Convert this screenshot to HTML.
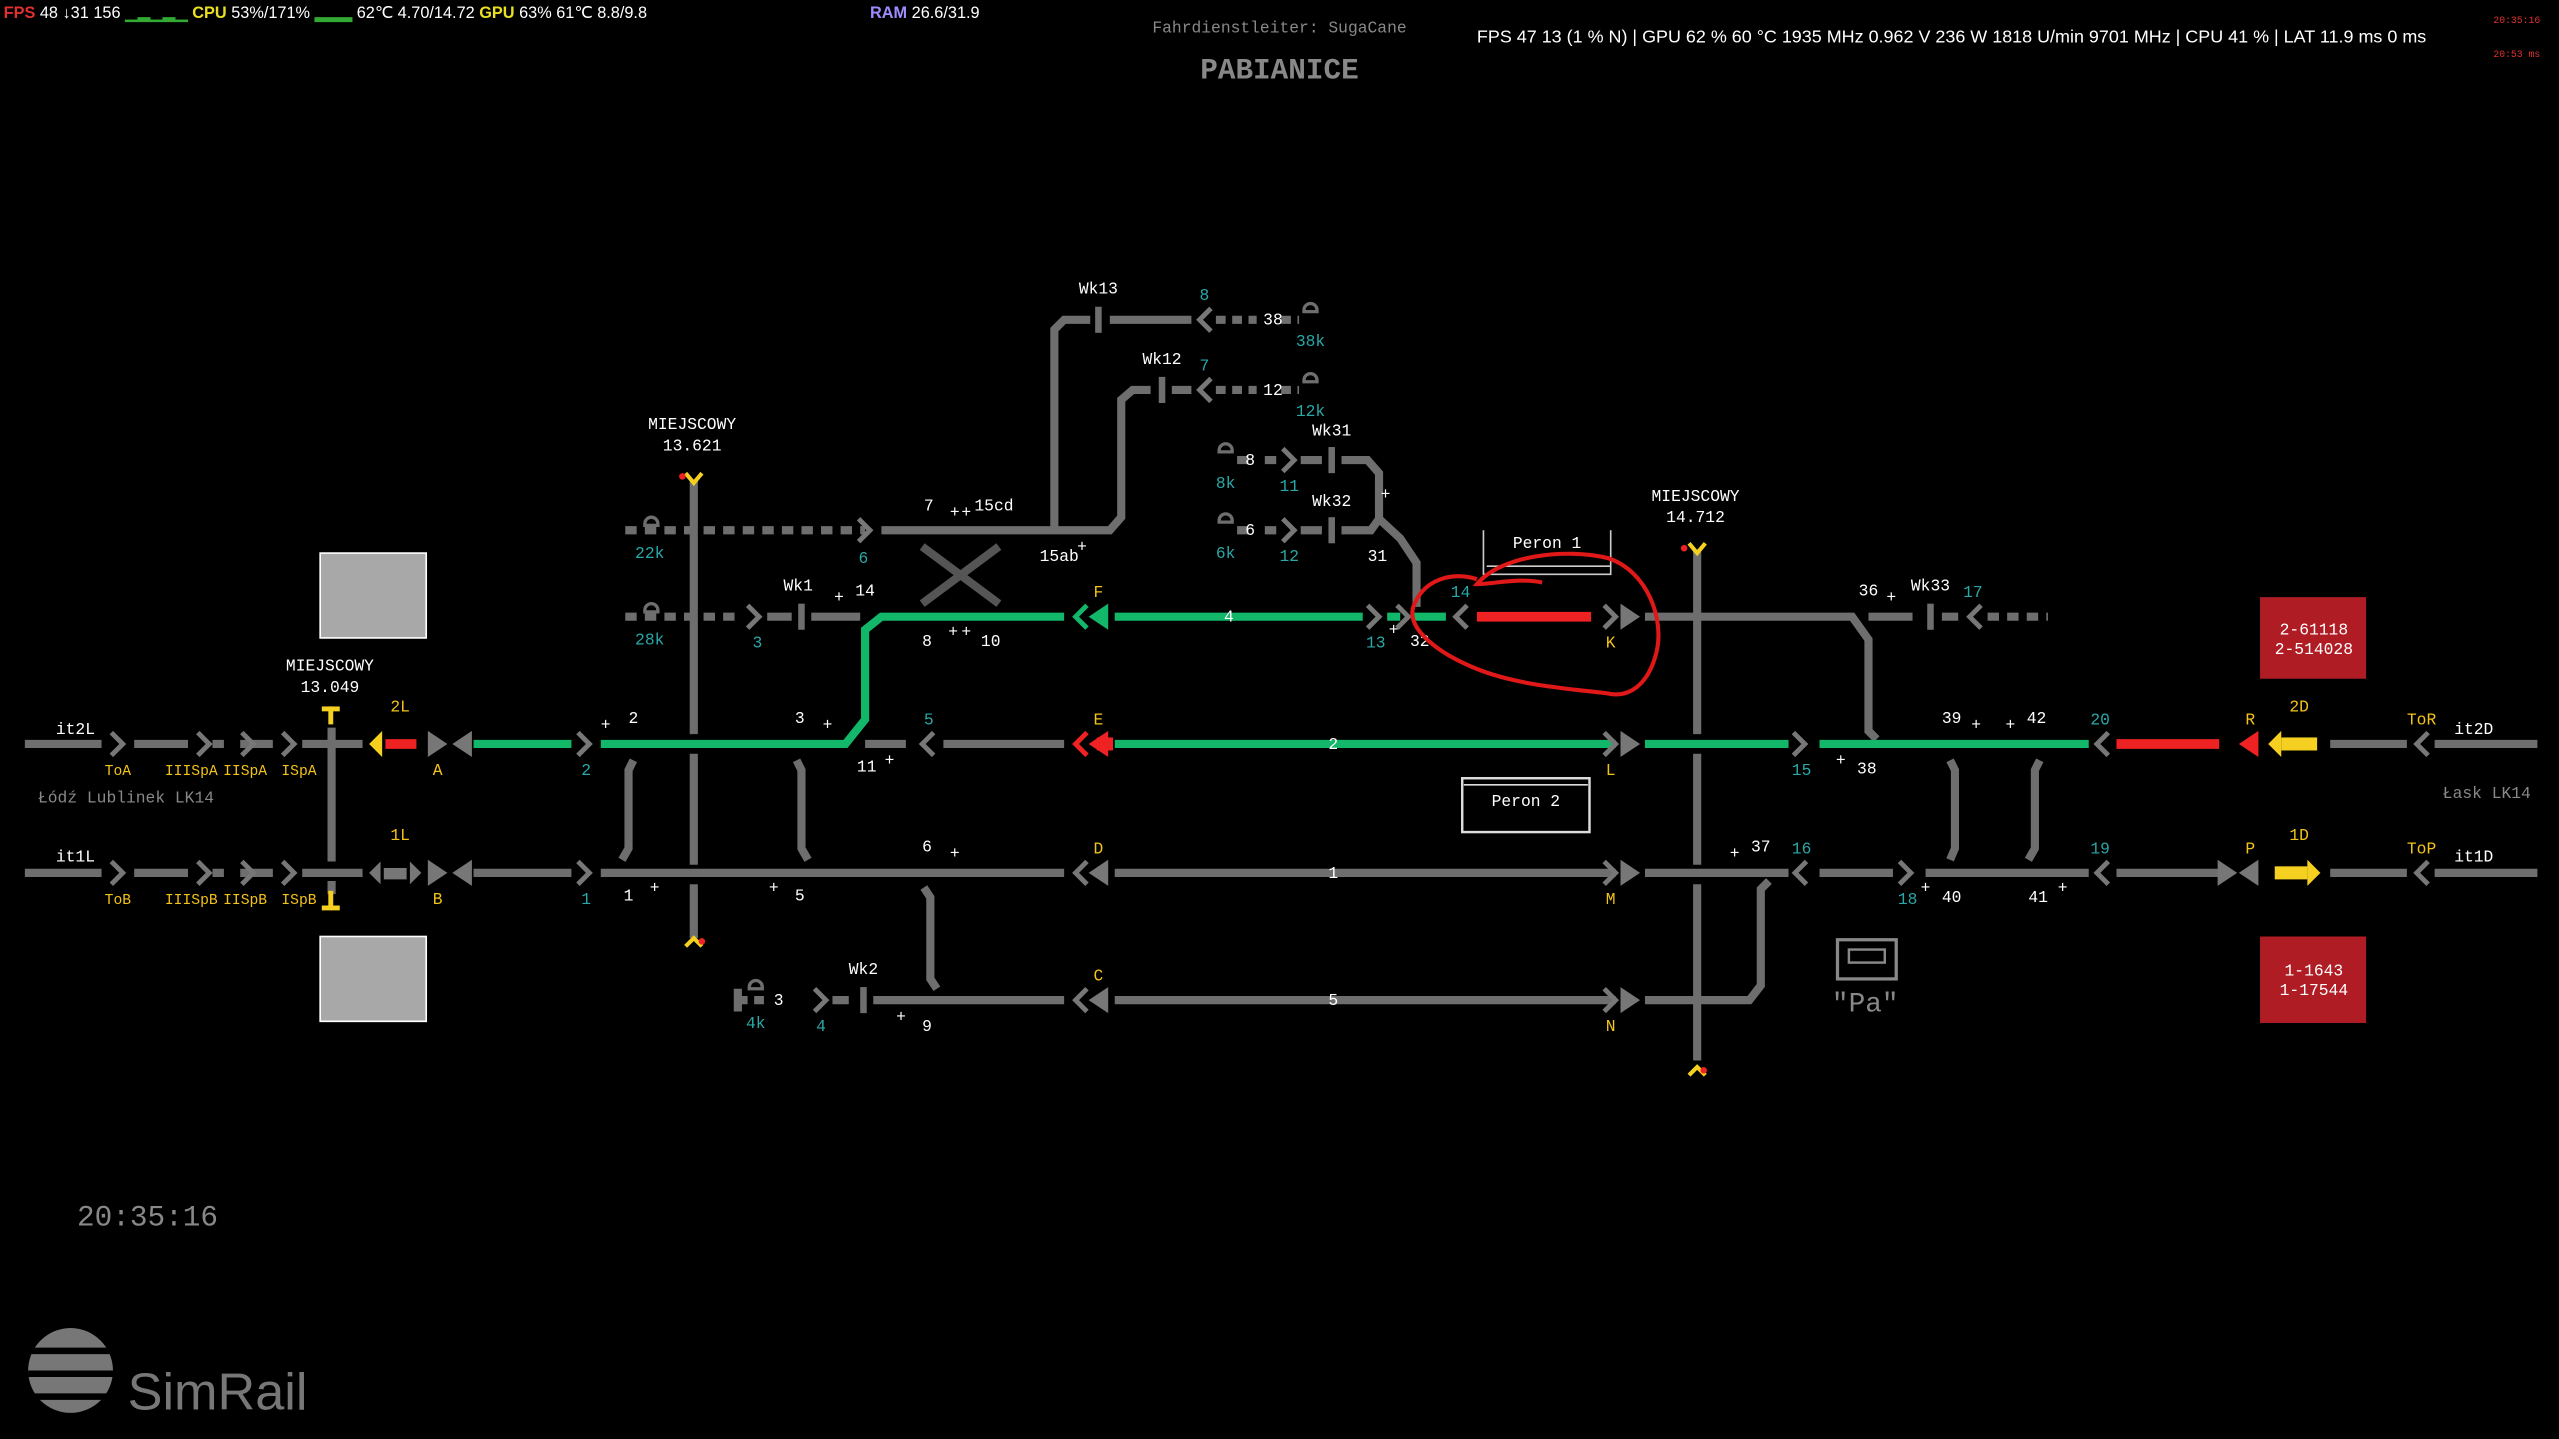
<!DOCTYPE html>
<html><head><meta charset="utf-8"><style>
html,body{margin:0;padding:0;background:#000;width:2559px;height:1439px;overflow:hidden}
svg{display:block}
text{font-family:"Liberation Mono",monospace;font-size:10px;fill:#fff}
.t text,text.t{fill:#2aa7a7}.y text,text.y{fill:#f2c318}.g{fill:#888}
.sm text{font-size:9px}
</style></head><body>
<svg width="2559" height="1439" viewBox="0 0 1568 882" xmlns="http://www.w3.org/2000/svg">
<defs>
<polyline id="cr" points="-4,-7 3,0 -4,7" fill="none" stroke-width="3"/>
<polyline id="cl" points="4,-7 -3,0 4,7" fill="none" stroke-width="3"/>
<polygon id="tr" points="-6,-8 6,0 -6,8"/>
<polygon id="tl" points="6,-8 -6,0 6,8"/>
</defs>
<rect width="1568" height="882" fill="#000"/>
<!-- HUD -->
<text x="2" y="11" style="font-family:'Liberation Sans';font-size:10px"><tspan fill="#e03030" font-weight="bold">FPS</tspan> 48  ↓31 156 <tspan fill="#3a3" >▁▂▁▂▁</tspan> <tspan fill="#e8e020" font-weight="bold">CPU</tspan> 53%/171% <tspan fill="#3a3">▂▂▂</tspan> 62℃  4.70/14.72 <tspan fill="#e8e020" font-weight="bold">GPU</tspan> 63%  61℃  8.8/9.8</text>
<text x="533" y="11" style="font-family:'Liberation Sans';font-size:10px"><tspan fill="#a08cff" font-weight="bold">RAM</tspan> 26.6/31.9</text>
<text x="905" y="26" style="font-family:'Liberation Sans';font-size:11px" fill="#ddd">FPS  47   13 (1 % N)  |  GPU 62 %  60 °C  1935 MHz  0.962 V  236 W  1818 U/min  9701 MHz  |  CPU 41 %  |  LAT 11.9 ms  0 ms</text>
<text x="1528" y="14" style="font-size:6px;fill:#e03030">20:35:16</text>
<text x="1528" y="35" style="font-size:6px;fill:#e03030">20:53 ms</text>
<text x="784" y="20" text-anchor="middle" class="g" style="font-size:10px">Fahrdienstleiter: SugaCane</text>
<text x="784" y="48" text-anchor="middle" class="g" style="font-size:18px;font-weight:bold">PABIANICE</text>

<g stroke="#6e6e6e" stroke-width="5" fill="none">
<path d="M15 456H62M82 456H115M130 456H137M147 456H167M185 456H222"/>
<path d="M1428 456H1475M1492 456H1555"/>
<path d="M530 456H555M578 456H652"/>
<path d="M15 535H62M82 535H115M130 535H137M147 535H167M185 535H222M290 535H350M368 535H652M683 535H990M1008 535H1096M1115 535H1160M1180 535H1280M1297 535H1360M1428 535H1475M1492 535H1555"/>
<path d="M452 606V620M510 613H520M535 613H652M683 613H990M1008 613H1072L1079 604V545L1084 540"/>
<path d="M452 613H470" stroke-dasharray="6 4"/>
<path d="M383 378H455" stroke-dasharray="7 5"/>
<path d="M470 378H485M497 378H527"/>
<path d="M1008 378H1135L1145 392V448L1150 453M1145 378H1172M1190 378H1200"/>
<path d="M1218 378H1255" stroke-dasharray="7 5"/>
<path d="M383 325H530" stroke-dasharray="7 5"/>
<path d="M540 325H680L687 317V245L694 239H705M718 239H730"/>
<path d="M745 239H770M785 239H796" stroke-dasharray="6 4"/>
<path d="M646 325V202L652 196H668M680 196H730"/>
<path d="M745 196H770M785 196H796" stroke-dasharray="6 4"/>
<path d="M758 282H765M775 282H782M797 282H810M822 282H838L845 290V318L858 330L868 345V372"/>
<path d="M758 325H765M775 325H782M797 325H810M822 325H840L845 318"/>
<path d="M565 335L612 370M612 335L565 370" stroke="#555"/>
<path d="M425 295V450M425 462V530M425 542V575"/>
<path d="M1040 338V450M1040 462V530M1040 542V650"/>
<path d="M203 446V528M203 540V548"/>
<path d="M388 466L385 472V520L381 527M488 466L491 472V520L495 527M566 544L570 550V600L574 606M1195 466L1198 472V520L1195 527M1250 466L1247 472V520L1243 527"/>
</g>
<g stroke="#12b76a" stroke-width="5" fill="none">
<path d="M290 456H350M368 456H518L530 441V386L540 378H652M683 378H835M850 378H858M866 378H886M683 456H990M1008 456H1096M1115 456H1280"/>
</g>
<g stroke="#ee2222" stroke-width="6" fill="none">
<path d="M905 378H975M1297 456H1360M236 456H255"/>
</g>
<rect x="672" y="452" width="10" height="8" fill="#ee2222"/>
<g fill="#6e6e6e">
<rect x="489" y="370" width="4" height="16"/><rect x="527" y="605" width="4" height="16"/>
<rect x="1181" y="370" width="4" height="16"/><rect x="710" y="231" width="4" height="16"/>
<rect x="671" y="188" width="4" height="16"/><rect x="814" y="274" width="4" height="16"/><rect x="814" y="317" width="4" height="16"/>
</g>
<g stroke="#6e6e6e" stroke-width="2" fill="none">
<path d="M395 321A4 4 0 0 1 403 321M394 322H404M395 374A4 4 0 0 1 403 374M394 375H404M799 190A4 4 0 0 1 807 190M798 191H808M799 233A4 4 0 0 1 807 233M798 234H808M747 276A4 4 0 0 1 755 276M746 277H756M747 319A4 4 0 0 1 755 319M746 320H756M459 605A4 4 0 0 1 467 605M458 606H468"/>
</g>
<g stroke="#777" fill="#777">
<use href="#cr" x="72" y="456"/><use href="#cr" x="125" y="456"/><use href="#cr" x="152" y="456"/><use href="#cr" x="177" y="456"/>
<use href="#cr" x="72" y="535"/><use href="#cr" x="125" y="535"/><use href="#cr" x="152" y="535"/><use href="#cr" x="177" y="535"/>
<use href="#cr" x="358" y="456"/><use href="#cr" x="358" y="535"/>
<use href="#tr" x="268" y="456" stroke="none"/><use href="#tl" x="283" y="456" stroke="none"/>
<use href="#tr" x="268" y="535" stroke="none"/><use href="#tl" x="283" y="535" stroke="none"/>
<use href="#cl" x="568" y="456"/>
<use href="#cl" x="662" y="535"/><use href="#tl" x="673" y="535" stroke="none"/>
<use href="#cl" x="662" y="613"/><use href="#tl" x="673" y="613" stroke="none"/>
<use href="#cr" x="987" y="456"/><use href="#tr" x="999" y="456" stroke="none"/>
<use href="#cr" x="987" y="535"/><use href="#tr" x="999" y="535" stroke="none"/>
<use href="#cr" x="987" y="613"/><use href="#tr" x="999" y="613" stroke="none"/>
<use href="#cr" x="987" y="378"/><use href="#tr" x="999" y="378" stroke="none"/>
<use href="#cr" x="1103" y="456"/><use href="#cl" x="1103" y="535"/><use href="#cr" x="1168" y="535"/>
<use href="#cl" x="1288" y="456"/><use href="#cl" x="1288" y="535"/>
<use href="#tr" x="1365" y="535" stroke="none"/><use href="#tl" x="1378" y="535" stroke="none"/>
<use href="#cl" x="1484" y="456"/><use href="#cl" x="1484" y="535"/>
<use href="#cr" x="462" y="378"/><use href="#cr" x="503" y="613"/><use href="#cr" x="530" y="325"/>
<use href="#cl" x="738" y="239"/><use href="#cl" x="738" y="196"/><use href="#cr" x="790" y="282"/><use href="#cr" x="790" y="325"/>
<use href="#cr" x="842" y="378"/><use href="#cr" x="860" y="378"/><use href="#cl" x="895" y="378"/><use href="#cl" x="1210" y="378"/>
</g>
<g stroke="#12b76a" fill="#12b76a"><use href="#cl" x="662" y="378"/><use href="#tl" x="673" y="378" stroke="none"/></g>
<g fill="#ee2222" stroke="#ee2222"><use href="#cl" x="662" y="456"/><use href="#tl" x="673" y="456" stroke="none"/><use href="#tl" x="1378" y="456" stroke="none"/></g>
<polygon points="226,456 234,448 234,464" fill="#f5d020"/>
<polygon points="1390,456 1398,448 1398,464" fill="#f5d020"/><rect x="1398" y="452" width="22" height="8" fill="#f5d020"/>
<polygon points="1422,535 1414,527 1414,543" fill="#f5d020"/><rect x="1394" y="531" width="20" height="8" fill="#f5d020"/>
<polygon points="226,535 233,528 233,542" fill="#777"/><polygon points="258,535 251,528 251,542" fill="#777"/><rect x="235" y="532" width="14" height="7" fill="#777"/>
<g fill="#f5d020"><rect x="197" y="433" width="11" height="3"/><rect x="201" y="433" width="3" height="11"/><rect x="197" y="555" width="11" height="3"/><rect x="201" y="546" width="3" height="11"/></g>
<g stroke="#f5d020" stroke-width="2.5" fill="none"><path d="M420 290L425 296L430 290M1035 333L1040 339L1045 333M420 580L425 575L430 580M1035 659L1040 654L1045 659"/></g>
<g fill="#ee2222"><circle cx="418" cy="292" r="2"/><circle cx="1032" cy="336" r="2"/><circle cx="430" cy="577" r="2"/><circle cx="1044" cy="656" r="2"/></g>
<rect x="196" y="339" width="65" height="52" fill="#a8a8a8" stroke="#fff" stroke-width="1"/>
<rect x="196" y="574" width="65" height="52" fill="#a8a8a8" stroke="#fff" stroke-width="1"/>
<rect x="1385" y="366" width="65" height="50" fill="#b01c24"/>
<rect x="1385" y="574" width="65" height="53" fill="#b01c24"/>
<text x="1418" y="389" text-anchor="middle">2-61118</text><text x="1418" y="401" text-anchor="middle">2-514028</text>
<text x="1418" y="598" text-anchor="middle">1-1643</text><text x="1418" y="610" text-anchor="middle">1-17544</text>
<path d="M909 325V352H987V325M911 347H987" stroke="#ccc" fill="none"/>
<text x="948" y="336" text-anchor="middle">Peron 1</text>
<rect x="896" y="477" width="78" height="33" fill="none" stroke="#ddd" stroke-width="1.5"/><path d="M897 481H973" stroke="#ddd"/>
<text x="935" y="494" text-anchor="middle">Peron 2</text>
<rect x="1126" y="576" width="36" height="24" fill="none" stroke="#888" stroke-width="2"/><rect x="1133" y="582" width="22" height="8" fill="none" stroke="#888" stroke-width="1.5"/>
<text x="1143" y="620" text-anchor="middle" class="g" style="font-size:17px">"Pa"</text>
<text x="46" y="450" text-anchor="middle">it2L</text><text x="46" y="528" text-anchor="middle">it1L</text>
<text x="1516" y="450" text-anchor="middle">it2D</text><text x="1516" y="528" text-anchor="middle">it1D</text>
<text x="77" y="492" text-anchor="middle" class="g">Łódź Lublinek LK14</text>
<text x="1524" y="489" text-anchor="middle" class="g">Łask LK14</text>
<g class="y">
<g class="sm">
<text x="72" y="475" text-anchor="middle">ToA</text><text x="117" y="475" text-anchor="middle">IIISpA</text><text x="150" y="475" text-anchor="middle">IISpA</text><text x="183" y="475" text-anchor="middle">ISpA</text>
<text x="72" y="554" text-anchor="middle">ToB</text><text x="117" y="554" text-anchor="middle">IIISpB</text><text x="150" y="554" text-anchor="middle">IISpB</text><text x="183" y="554" text-anchor="middle">ISpB</text>
</g>
<text x="245" y="436" text-anchor="middle">2L</text><text x="245" y="515" text-anchor="middle">1L</text>
<text x="268" y="475" text-anchor="middle">A</text><text x="268" y="554" text-anchor="middle">B</text>
<text x="673" y="366" text-anchor="middle">F</text><text x="673" y="444" text-anchor="middle">E</text><text x="673" y="523" text-anchor="middle">D</text><text x="673" y="601" text-anchor="middle">C</text>
<text x="987" y="397" text-anchor="middle">K</text><text x="987" y="475" text-anchor="middle">L</text><text x="987" y="554" text-anchor="middle">M</text><text x="987" y="632" text-anchor="middle">N</text>
<text x="1379" y="444" text-anchor="middle">R</text><text x="1379" y="523" text-anchor="middle">P</text>
<text x="1409" y="436" text-anchor="middle">2D</text><text x="1409" y="515" text-anchor="middle">1D</text>
<text x="1484" y="444" text-anchor="middle">ToR</text><text x="1484" y="523" text-anchor="middle">ToP</text>
</g>
<g class="t">
<text x="359" y="475" text-anchor="middle">2</text><text x="359" y="554" text-anchor="middle">1</text><text x="569" y="444" text-anchor="middle">5</text>
<text x="398" y="342" text-anchor="middle">22k</text><text x="398" y="395" text-anchor="middle">28k</text><text x="529" y="345" text-anchor="middle">6</text><text x="464" y="397" text-anchor="middle">3</text>
<text x="463" y="630" text-anchor="middle">4k</text><text x="503" y="632" text-anchor="middle">4</text>
<text x="738" y="184" text-anchor="middle">8</text><text x="738" y="227" text-anchor="middle">7</text><text x="803" y="212" text-anchor="middle">38k</text><text x="803" y="255" text-anchor="middle">12k</text>
<text x="751" y="299" text-anchor="middle">8k</text><text x="751" y="342" text-anchor="middle">6k</text><text x="790" y="301" text-anchor="middle">11</text><text x="790" y="344" text-anchor="middle">12</text>
<text x="843" y="397" text-anchor="middle">13</text><text x="895" y="366" text-anchor="middle">14</text><text x="1209" y="366" text-anchor="middle">17</text>
<text x="1104" y="475" text-anchor="middle">15</text><text x="1104" y="523" text-anchor="middle">16</text><text x="1287" y="444" text-anchor="middle">20</text><text x="1287" y="523" text-anchor="middle">19</text><text x="1169" y="554" text-anchor="middle">18</text>
</g>
<g>
<text x="385" y="443">2</text><text x="487" y="443">3</text><text x="525" y="473">11</text><text x="565" y="522">6</text><text x="382" y="552">1</text><text x="487" y="552">5</text>
<text x="565" y="396">8</text><text x="601" y="396">10</text><text x="524" y="365">14</text><text x="489" y="362" text-anchor="middle">Wk1</text>
<text x="566" y="313">7</text><text x="597" y="313">15cd</text><text x="637" y="344">15ab</text>
<text x="673" y="180" text-anchor="middle">Wk13</text><text x="712" y="223" text-anchor="middle">Wk12</text><text x="774" y="199">38</text><text x="774" y="242">12</text>
<text x="816" y="267" text-anchor="middle">Wk31</text><text x="816" y="310" text-anchor="middle">Wk32</text><text x="763" y="285">8</text><text x="763" y="328">6</text><text x="838" y="344">31</text><text x="864" y="396">32</text>
<text x="750" y="381">4</text><text x="814" y="459">2</text><text x="814" y="538">1</text><text x="814" y="616">5</text>
<text x="474" y="616">3</text><text x="529" y="597" text-anchor="middle">Wk2</text><text x="565" y="632">9</text>
<text x="1139" y="365">36</text><text x="1183" y="362" text-anchor="middle">Wk33</text><text x="1190" y="443">39</text><text x="1242" y="443">42</text><text x="1138" y="474">38</text>
<text x="1073" y="522">37</text><text x="1190" y="553">40</text><text x="1243" y="553">41</text>
<text x="424" y="263" text-anchor="middle">MIEJSCOWY</text><text x="424" y="276" text-anchor="middle">13.621</text>
<text x="202" y="411" text-anchor="middle">MIEJSCOWY</text><text x="202" y="424" text-anchor="middle">13.049</text>
<text x="1039" y="307" text-anchor="middle">MIEJSCOWY</text><text x="1039" y="320" text-anchor="middle">14.712</text>
<g style="font-size:8px"><text x="368" y="447">+</text><text x="504" y="447">+</text><text x="542" y="469">+</text><text x="582" y="526">+</text><text x="398" y="547">+</text><text x="471" y="547">+</text><text x="511" y="369">+</text><text x="581" y="390">+</text><text x="589" y="390">+</text><text x="582" y="317">+</text><text x="589" y="317">+</text><text x="660" y="338">+</text><text x="846" y="306">+</text><text x="851" y="389">+</text><text x="549" y="626">+</text><text x="1156" y="369">+</text><text x="1208" y="447">+</text><text x="1229" y="447">+</text><text x="1125" y="469">+</text><text x="1060" y="526">+</text><text x="1177" y="547">+</text><text x="1261" y="547">+</text></g>
</g>
<path d="M945 357C930 354 915 358 905 358C920 340 960 336 985 342C1010 350 1020 380 1015 400C1010 420 998 428 985 425C960 422 930 420 905 410C880 400 862 385 866 372C872 355 890 350 905 355" stroke="#e01818" stroke-width="2.5" fill="none"/>
<text x="47" y="751" class="g" style="font-size:18px">20:35:16</text>
<circle cx="43" cy="840" r="26" fill="#777"/>
<g stroke="#000" stroke-width="4"><path d="M17 828H70M17 842H70M17 856H70"/></g>
<text x="78" y="864" style="font-family:'Liberation Sans';font-size:32px;fill:#777">SimRail</text>
</svg>
</body></html>
